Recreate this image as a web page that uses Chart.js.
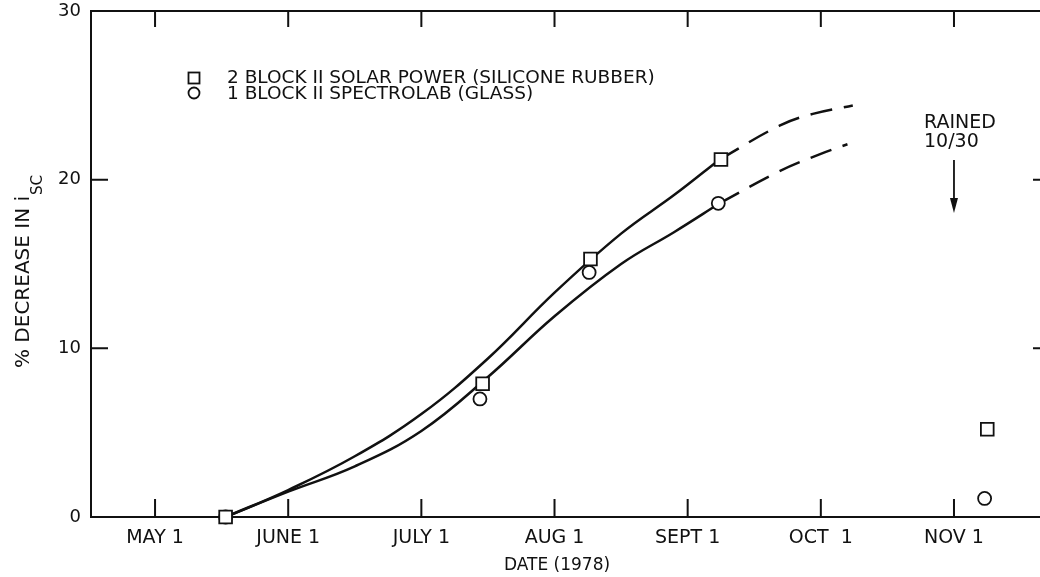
<!DOCTYPE html>
<html lang="en">
<head>
<meta charset="utf-8">
<title>% Decrease in Isc (1978)</title>
<script src="https://cdn.jsdelivr.net/npm/chart.js@4"></script>
<style>
  html, body { margin: 0; padding: 0; background: #fff; }
  #wrap { width: 1040px; height: 577px; }
</style>
</head>
<body>
<div id="wrap"><canvas id="iscChart"></canvas></div>
<script>
// x values are months after May 1, 1978 (0 = May 1, 1 = June 1, ...)
const monthLabels = ['MAY 1', 'JUNE 1', 'JULY 1', 'AUG 1', 'SEPT 1', 'OCT  1', 'NOV 1'];
const yTicks = [0, 10, 20, 30];

// measured points
const rubberX = [0.53, 2.46, 3.27, 4.25, 6.25];
const rubberY = [0, 7.9, 15.3, 21.2, 5.2];
const glassX = [0.53, 2.44, 3.26, 4.23, 6.23];
const glassY = [0, 7.0, 14.5, 18.6, 1.1];

// hand drawn trend curves (solid) and their dashed extensions
const rubberFitX = [0.53, 1.0, 1.5, 2.0, 2.5, 3.0, 3.5, 3.9, 4.24];
const rubberFitY = [0, 1.6, 3.6, 6.1, 9.4, 13.3, 16.8, 19.1, 21.2];
const rubberExtX = [4.24, 4.69, 4.94, 5.24];
const rubberExtY = [21.2, 23.2, 23.9, 24.4];
const glassFitX = [0.53, 1.0, 1.5, 2.0, 2.5, 3.0, 3.5, 3.9, 4.24];
const glassFitY = [0, 1.5, 3.0, 5.1, 8.3, 11.9, 15.0, 16.9, 18.6];
const glassExtX = [4.24, 4.69, 4.99, 5.20];
const glassExtY = [18.6, 20.5, 21.5, 22.1];

const rainX = 6.0; // arrow for "RAINED 10/30"

const ink = '#111';
const zip = (xs, ys) => xs.map((x, i) => ({ x: x, y: ys[i] }));

function curve(xs, ys, dash) {
    return {
        data: zip(xs, ys),
        showLine: true,
        borderColor: ink,
        borderWidth: 2.5,
        borderDash: dash || [],
        pointRadius: 0,
        tension: 0.4
    };
}

// frame, inward ticks, legend, titles and note
const decorations = {
    id: 'decorations',
    afterDraw(chart) {
        const { ctx, chartArea: a, scales: { x, y } } = chart;
        ctx.save();
        ctx.strokeStyle = ink;
        ctx.fillStyle = ink;
        ctx.lineWidth = 2;

        ctx.beginPath();
        ctx.moveTo(a.left, a.top);
        ctx.lineTo(a.right, a.top);
        monthLabels.forEach((_, i) => {
            const px = x.getPixelForValue(i);
            ctx.moveTo(px, a.bottom);
            ctx.lineTo(px, a.bottom - 18);
            ctx.moveTo(px, a.top);
            ctx.lineTo(px, a.top + 16);
        });
        [10, 20].forEach(v => {
            const py = y.getPixelForValue(v);
            ctx.moveTo(a.left, py);
            ctx.lineTo(a.left + 17, py);
            ctx.moveTo(a.right, py);
            ctx.lineTo(a.right - 7, py);
        });
        ctx.stroke();

        // legend
        ctx.lineWidth = 1.8;
        ctx.strokeRect(188.5, 72.5, 11, 11);
        ctx.beginPath();
        ctx.arc(194, 93, 5.5, 0, Math.PI * 2);
        ctx.stroke();
        ctx.font = '18.5px "DejaVu Sans"';
        ctx.textAlign = 'left';
        ctx.textBaseline = 'middle';
        ctx.fillText('2 BLOCK II SOLAR POWER (SILICONE RUBBER)', 227, 78);
        ctx.fillText('1 BLOCK II SPECTROLAB (GLASS)', 227, 94);

        // x title
        ctx.font = '17px "DejaVu Sans"';
        ctx.textAlign = 'center';
        ctx.fillText('DATE (1978)', 557, 566);

        // y title with subscript
        ctx.save();
        ctx.translate(24, 368);
        ctx.rotate(-Math.PI / 2);
        ctx.textAlign = 'left';
        ctx.font = '20px "DejaVu Sans"';
        const main = '% DECREASE IN i';
        ctx.fillText(main, 0, 0);
        const w = ctx.measureText(main).width;
        ctx.font = '15px "DejaVu Sans"';
        ctx.fillText('SC', w + 1, 14);
        ctx.restore();

        // rain note
        const rx = x.getPixelForValue(rainX);
        ctx.font = '19px "DejaVu Sans"';
        ctx.textAlign = 'left';
        ctx.fillText('RAINED', rx - 30, 123);
        ctx.fillText('10/30', rx - 30, 142);
        ctx.lineWidth = 1.8;
        ctx.beginPath();
        ctx.moveTo(rx, 160);
        ctx.lineTo(rx, 200);
        ctx.stroke();
        ctx.beginPath();
        ctx.moveTo(rx - 4, 198);
        ctx.lineTo(rx + 4, 198);
        ctx.lineTo(rx, 213);
        ctx.closePath();
        ctx.fill();
        ctx.restore();
    }
};

Chart.defaults.font.family = '"DejaVu Sans", sans-serif';
Chart.defaults.color = ink;

new Chart(document.getElementById('iscChart'), {
    type: 'scatter',
    data: {
        datasets: [
            {
                data: zip(rubberX, rubberY),
                pointStyle: 'rect',
                pointRadius: 9,
                pointBackgroundColor: '#fff',
                pointBorderColor: ink,
                pointBorderWidth: 1.8
            },
            {
                data: zip(glassX, glassY),
                pointStyle: 'circle',
                pointRadius: 6.5,
                pointBackgroundColor: '#fff',
                pointBorderColor: ink,
                pointBorderWidth: 1.8
            },
            curve(rubberFitX, rubberFitY),
            curve(rubberExtX, rubberExtY, [22, 12]),
            curve(glassFitX, glassFitY),
            curve(glassExtX, glassExtY, [22, 12])
        ]
    },
    options: {
        responsive: true,
        maintainAspectRatio: false,
        animation: false,
        clip: false,
        layout: { padding: 0, autoPadding: false },
        plugins: {
            legend: { display: false },
            tooltip: { enabled: false }
        },
        scales: {
            x: {
                type: 'linear',
                min: -0.481,
                max: 6.646,
                afterBuildTicks: s => { s.ticks = monthLabels.map((_, i) => ({ value: i })); },
                afterFit: s => { s.height = 60; s.paddingLeft = 0; s.paddingRight = 0; },
                grid: { display: false, drawTicks: false },
                border: { display: true, color: ink, width: 2 },
                ticks: {
                    padding: 10,
                    maxRotation: 0,
                    autoSkip: false,
                    font: { size: 19 },
                    callback: v => monthLabels[Math.round(v)]
                }
            },
            y: {
                min: 0,
                max: 30,
                afterBuildTicks: s => { s.ticks = yTicks.map(v => ({ value: v })); },
                afterFit: s => { s.width = 91; s.paddingTop = 11; s.paddingBottom = 0; },
                grid: { display: false, drawTicks: false },
                border: { display: true, color: ink, width: 2 },
                ticks: { padding: 10, font: { size: 18 } }
            }
        }
    },
    plugins: [decorations]
});
</script>
</body>
</html>
